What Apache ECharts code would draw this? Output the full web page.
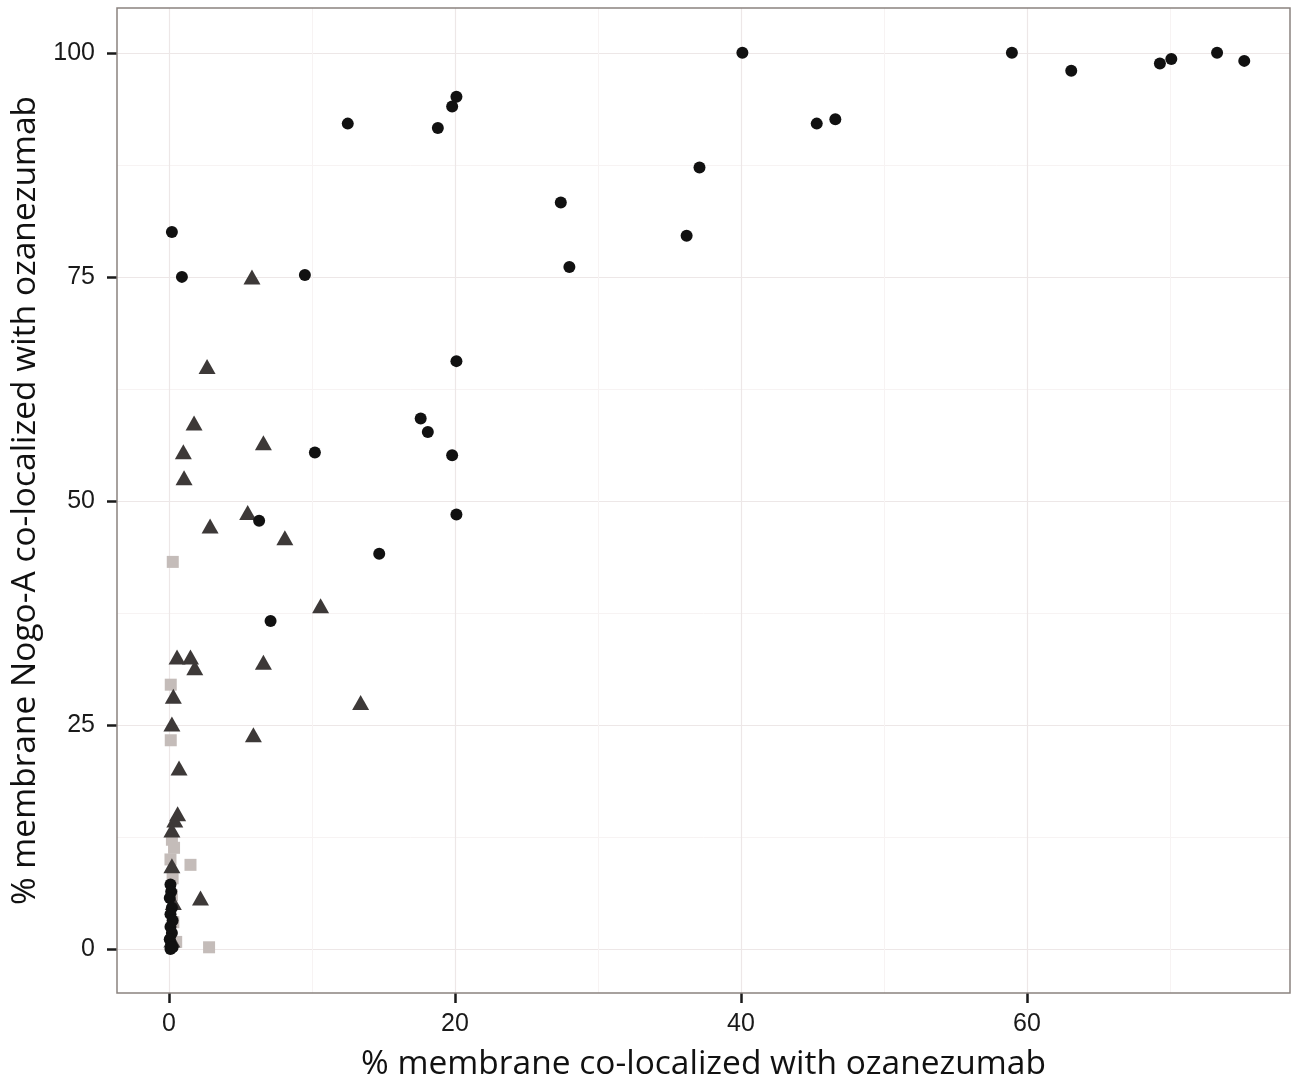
<!DOCTYPE html>
<html>
<head>
    <meta charset="utf-8">
    <title>Nogo-A vs ozanezumab</title>
    <script src="https://cdn.jsdelivr.net/npm/echarts@6/dist/echarts.min.js"></script>
</head>
<body style="margin:0">
    <div id="main" style="width: 1292px;height:1080px;"></div>
    <script type="text/javascript">
        // [x, y] = [% membrane co-localized with ozanezumab, % membrane Nogo-A co-localized]
        var circles = [
            [40.1, 100], [58.95, 100], [63.1, 98], [69.3, 98.8], [70.1, 99.3], [73.3, 100], [75.2, 99.1],
            [12.5, 92.1], [18.8, 91.6], [19.8, 94], [20.1, 95.1], [45.3, 92.1], [46.6, 92.6],
            [27.4, 83.3], [37.1, 87.2], [36.2, 79.6], [28.0, 76.1], [0.2, 80], [0.9, 75], [9.5, 75.2],
            [20.1, 65.6], [17.6, 59.2], [18.1, 57.7], [10.2, 55.4], [19.8, 55.1], [20.1, 48.5],
            [6.3, 47.8], [14.7, 44.1], [7.1, 36.6],
            [0.1, 7.2], [0.15, 6.4], [0.05, 5.7], [0.2, 4.6], [0.1, 3.9], [0.25, 3.2], [0.1, 2.5],
            [0.2, 1.8], [0.05, 1.1], [0.15, 0.5], [0.1, 0], [0.25, 0.2]
        ];
        var triangles = [
            [5.8, 75], [2.66, 65], [1.75, 58.7], [1.0, 55.5], [1.05, 52.6], [6.6, 56.5], [5.5, 48.7],
            [2.87, 47.2], [8.1, 45.9], [10.6, 38.3], [0.56, 32.6], [1.5, 32.6], [1.8, 31.4], [6.6, 32],
            [13.4, 27.5], [5.9, 23.9], [0.3, 28.2], [0.2, 25.1], [0.7, 20.2], [0.6, 15.1], [0.4, 14.4],
            [0.2, 13.3], [0.2, 9.3], [2.2, 5.7], [0.3, 5.2], [0.2, 1]
        ];
        var squares = [
            [0.26, 43.2], [0.12, 29.5], [0.12, 23.3], [0.2, 12.2], [0.35, 11.3], [1.5, 9.4], [0.1, 10],
            [0.25, 7.9], [2.8, 0.2], [0.5, 0.8], [0.3, 3], [0.2, 6]
        ];
        var xTicks = [0, 20, 40, 60];
        var xMinor = [10, 30, 50, 70];
        var yTicks = [0, 25, 50, 75, 100];
        var yMinor = [12.5, 37.5, 62.5, 87.5];

        var xMin = -3.64, xMax = 78.4;
        var yMin = -4.9, yMax = 105;

        var chartDom = document.getElementById('main');
        var myChart = echarts.init(chartDom);

        var labelStyle = { color: '#1a1a1a', fontSize: 25, fontFamily: 'Liberation Sans' };
        var titleStyle = { color: '#111', fontSize: 33.5, fontFamily: 'Open Sans' };

        function minorAxis(vals, min, max) {
            return {
                type: 'value', min: min, max: max,
                axisLine: { show: false, onZero: false },
                axisLabel: { show: false, customValues: vals },
                axisTick: { show: false, customValues: vals },
                splitLine: { show: true, lineStyle: { color: '#f7f3f3', width: 1 } }
            };
        }

        var option = {
            backgroundColor: '#fff',
            animation: false,
            grid: {
                left: 117, right: 2, top: 8, bottom: 87,
                outerBoundsMode: 'none',
                show: true, borderColor: '#8b827f', borderWidth: 1.5, z: 10
            },
            xAxis: [{
                type: 'value', min: xMin, max: xMax,
                name: '% membrane co-localized with ozanezumab',
                nameLocation: 'middle', nameGap: 54, nameTextStyle: titleStyle,
                axisLine: { show: false, onZero: false },
                axisTick: { show: true, inside: false, length: 10, lineStyle: { color: '#1a1a1a', width: 2.5 }, customValues: xTicks },
                axisLabel: Object.assign({ margin: 19, customValues: xTicks }, labelStyle),
                splitLine: { show: true, lineStyle: { color: '#ede7e7', width: 1.2 } }
            }, minorAxis(xMinor, xMin, xMax)],
            yAxis: [{
                type: 'value', min: yMin, max: yMax,
                name: '% membrane Nogo-A co-localized with ozanezumab',
                nameLocation: 'middle', nameGap: 61, nameTextStyle: titleStyle,
                axisLine: { show: false, onZero: false },
                axisTick: { show: true, inside: false, length: 10, lineStyle: { color: '#1a1a1a', width: 2.5 }, customValues: yTicks },
                axisLabel: Object.assign({ margin: 22, customValues: yTicks }, labelStyle),
                splitLine: { show: true, lineStyle: { color: '#ede7e7', width: 1.2 } }
            }, minorAxis(yMinor, yMin, yMax)],
            series: [{
                type: 'scatter', name: 'square', data: squares,
                symbol: 'rect', symbolSize: 12,
                itemStyle: { color: '#c4bcb9', opacity: 1 }
            }, {
                type: 'scatter', name: 'triangle', data: triangles,
                symbol: 'triangle', symbolSize: [17, 15],
                itemStyle: { color: '#3d3938', opacity: 1 }
            }, {
                type: 'scatter', name: 'circle', data: circles,
                symbol: 'circle', symbolSize: 12,
                itemStyle: { color: '#111', opacity: 1 }
            }]
        };

        myChart.setOption(option);
    </script>
</body>
</html>
